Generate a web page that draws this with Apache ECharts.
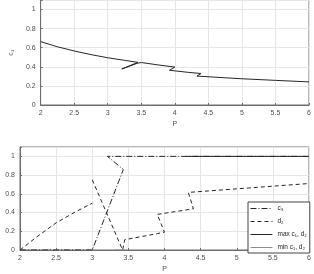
<!DOCTYPE html>
<html>
<head>
<meta charset="utf-8">
<script src="https://cdn.jsdelivr.net/npm/echarts@6/dist/echarts.min.js"></script>
<style>
  html, body { margin: 0; padding: 0; background: #fff; }
  #chart { width: 314px; height: 274px; }
</style>
</head>
<body>
<div id="chart"></div>
<script>
// top panel: c3 against P
const topC3 = [
  [2, 0.664], [2.25, 0.61], [2.5, 0.566], [2.75, 0.528], [3, 0.495], [3.25, 0.468],
  [3.45, 0.447], [3.21, 0.377], [3.44, 0.437], [3.5, 0.445], [3.75, 0.42], [4.0, 0.397],
  [3.92, 0.364], [4.2, 0.342], [4.39, 0.33], [4.33, 0.303], [4.75, 0.285], [5, 0.275],
  [5.5, 0.258], [6, 0.242]
];

// bottom panel
const botC3 = [[2, 0], [3, 0], [3.43, 0.86], [3.21, 1], [6, 1]];
const botD2 = [
  [2, 0], [2.25, 0.15], [2.5, 0.29], [2.75, 0.4], [3, 0.5], null,
  [3, 0.75], [3.42, 0], [3.45, 0.11], [3.9, 0.175], [4.0, 0.19], [3.9, 0.38],
  [4.4, 0.44], [4.33, 0.615], [6, 0.71]
];
const botMax = [[4.3, 1], [6, 1]];
const botMin = [[3.3, 0], [3.45, 0]];

const legendNames = ['c₃', 'd₂', 'max c₁, d₂', 'min c₁, d₂'];

const chart = echarts.init(document.getElementById('chart'), null, { renderer: 'canvas' });
const font = 'Liberation Sans, Arial, sans-serif';
const grey = '#e6e6e6';
const axisCol = '#6e6e6e';
const lab = { color: '#4d4d4d', fontSize: 7, fontFamily: font };

function xAx(gi) {
  return {
    type: 'value', gridIndex: gi, min: 2, max: 6, interval: 0.5,
    name: 'P', nameLocation: 'middle', nameGap: 16,
    nameTextStyle: { color: '#4d4d4d', fontSize: 7, fontFamily: font },
    axisLine: { show: true, onZero: false, lineStyle: { color: axisCol, width: 1 } },
    axisTick: { show: true, inside: true, length: 2, lineStyle: { color: axisCol } },
    axisLabel: { ...lab, margin: 5, formatter: (v) => String(v) },
    splitLine: { show: true, lineStyle: { color: grey, width: 1 } }
  };
}
function yAx(gi, max, name) {
  return {
    type: 'value', gridIndex: gi, min: 0, max: max, interval: 0.2,
    name: name, nameLocation: 'middle', nameGap: 14, nameRotate: 90,
    nameTextStyle: { color: '#4d4d4d', fontSize: 7, fontFamily: font },
    axisLine: { show: true, lineStyle: { color: axisCol, width: 1 } },
    axisTick: { show: true, inside: true, length: 2, lineStyle: { color: axisCol } },
    axisLabel: { ...lab, margin: 5, formatter: (v) => (v > 1.05 ? '' : String(Math.round(v * 10) / 10)) },
    splitLine: { show: true, lineStyle: { color: grey, width: 1 } }
  };
}

const line = (name, data, gi, type, color) => ({
  name, type: 'line', xAxisIndex: gi, yAxisIndex: gi, data,
  showSymbol: false, symbol: 'none', connectNulls: false, animation: false,
  lineStyle: { color, width: 1, type },
  itemStyle: { color }
});

chart.setOption({
  animation: false,
  grid: [
    { left: 20, right: 5, top: -4, height: 109, show: true, borderColor: axisCol, borderWidth: 1 },
    { left: 20, right: 5, top: 147, height: 107, show: true, borderColor: axisCol, borderWidth: 1 }
  ],
  xAxis: [xAx(0), xAx(1)],
  yAxis: [yAx(0, 1.1, 'c₃'), yAx(1, 1.1, '')],
  legend: {
    data: legendNames,
    orient: 'vertical', left: 248, top: 202, width: 54,
    itemWidth: 22, itemHeight: 6, itemGap: 6,
    padding: [3, 3, 2, 2],
    itemStyle: { opacity: 0, borderWidth: 0 },
    lineStyle: { width: 1 },
    borderColor: '#444', borderWidth: 1, backgroundColor: '#fff',
    textStyle: { color: '#222', fontSize: 6.5, fontFamily: font }
  },
  series: [
    line('top', topC3, 0, 'solid', '#262626'),
    line(legendNames[0], botC3, 1, [6, 2, 1, 2], '#262626'),
    line(legendNames[1], botD2, 1, [4, 3], '#262626'),
    line(legendNames[2], botMax, 1, 'solid', '#262626'),
    line(legendNames[3], botMin, 1, 'solid', '#8c8c8c')
  ]
});
</script>
</body>
</html>
